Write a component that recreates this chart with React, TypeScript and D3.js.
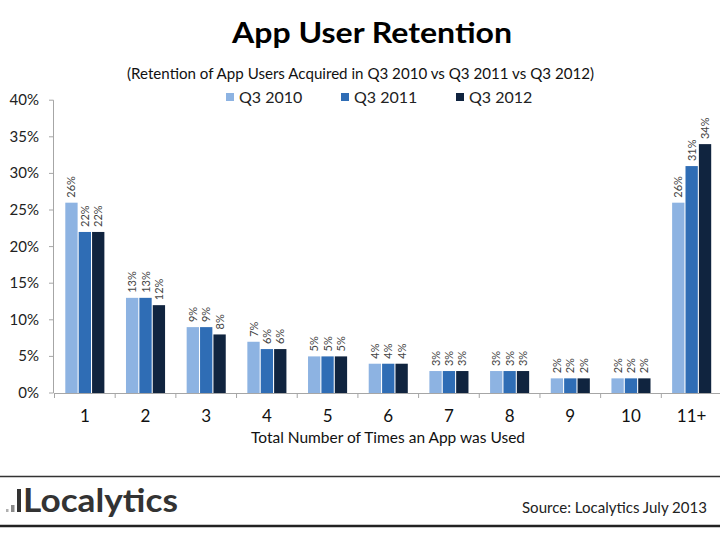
import React from "react";
import * as d3 from "d3";

const categories = ["1", "2", "3", "4", "5", "6", "7", "8", "9", "10", "11+"];
const seriesNames = ["Q3 2010", "Q3 2011", "Q3 2012"];
const q3_2010 = [26, 13, 9, 7, 5, 4, 3, 3, 2, 2, 26];
const q3_2011 = [22, 13, 9, 6, 5, 4, 3, 3, 2, 2, 31];
const q3_2012 = [22, 12, 8, 6, 5, 4, 3, 3, 2, 2, 34];
const yTicks = [0, 5, 10, 15, 20, 25, 30, 35, 40];
const colors = ["#8db3e2", "#2f6db5", "#10243f"];

const W = 720;
const H = 540;
const FONT = "Lato, 'Open Sans', sans-serif";

export default function App() {
  const series = [q3_2010, q3_2011, q3_2012];
  const x0 = d3.scaleBand<string>().domain(categories).range([54.5, 722]).paddingInner(0.356).paddingOuter(0.178);
  const x1 = d3.scaleBand<string>().domain(seriesNames).range([0, x0.bandwidth()]).paddingInner(0.08);
  const y = d3.scaleLinear().domain([0, 40]).range([393, 100.2]);
  const step = x0.step();
  const legendX = [226, 341, 456];

  return (
    <svg width={W} height={H} style={{ position: "absolute", left: 0, top: 0, background: "#fff" }} fontFamily={FONT}>
      <rect x={0} y={0} width={W} height={H} fill="#fff" />
      <text x={372} y={43} textAnchor="middle" fontSize={29} fontWeight={700} fill="#000" textLength={280} lengthAdjust="spacingAndGlyphs">App User Retention</text>
      <text x={360.5} y={79} textAnchor="middle" fontSize={16} fill="#111" textLength={467} lengthAdjust="spacingAndGlyphs">
        (Retention of App Users Acquired in Q3 2010 vs Q3 2011 vs Q3 2012)
      </text>
      {seriesNames.map((s, i) => (
        <g key={s}>
          <rect x={legendX[i]} y={93} width={8} height={8} fill={colors[i]} />
          <text x={legendX[i] + 13} y={103} fontSize={16} fill="#222">{s}</text>
        </g>
      ))}
      {/* y axis */}
      <line x1={53.5} x2={53.5} y1={y(40)} y2={y(0)} stroke="#a6a6a6" />
      {yTicks.map((t) => (
        <g key={t}>
          <line x1={49} x2={53.5} y1={y(t)} y2={y(t)} stroke="#a6a6a6" />
          <text x={39} y={y(t) + 5} textAnchor="end" fontSize={15} fill="#222">{t + "%"}</text>
        </g>
      ))}
      {/* bars */}
      {categories.map((c, ci) => (
        <g key={c} transform={`translate(${x0(c)},0)`}>
          {seriesNames.map((s, si) => {
            const v = series[si][ci];
            const bx = x1(s)!;
            const bw = x1.bandwidth();
            return (
              <g key={s}>
                <rect x={bx} y={y(v)} width={bw} height={y(0) - y(v)} fill={colors[si]} />
                <text
                  transform={`translate(${bx + bw / 2 + 4},${y(v) - 5}) rotate(-90)`}
                  fontSize={11}
                  fill="#444"
                >
                  {v + "%"}
                </text>
              </g>
            );
          })}
        </g>
      ))}
      {/* x axis */}
      <line x1={54.5} x2={W} y1={y(0) + 0.5} y2={y(0) + 0.5} stroke="#a6a6a6" />
      {categories.map((c, i) => (
        <line key={"t" + c} x1={54.5 + i * step} x2={54.5 + i * step} y1={y(0)} y2={y(0) + 5} stroke="#a6a6a6" />
      ))}
      {categories.map((c) => (
        <text key={"l" + c} x={x0(c)! + x0.bandwidth() / 2} y={422} textAnchor="middle" fontSize={17} fill="#111">{c}</text>
      ))}
      <text x={388} y={443} textAnchor="middle" fontSize={16} fill="#111" textLength={274} lengthAdjust="spacingAndGlyphs">
        Total Number of Times an App was Used
      </text>
      {/* footer */}
      <line x1={0} x2={W} y1={476.5} y2={476.5} stroke="#333" strokeWidth={1.5} />
      <line x1={0} x2={W} y1={526} y2={526} stroke="#222" strokeWidth={2.5} />
      <rect x={6} y={509} width={2.5} height={3} fill="#b0b0b0" />
      <rect x={11} y={505} width={3.5} height={7} fill="#8a8a8a" />
      <rect x={17} y={489} width={4} height={23} fill="#333" />
      <text x={23} y={512} fontSize={33} fontWeight={700} fill="#333" textLength={155} lengthAdjust="spacingAndGlyphs">Localytics</text>
      <text x={707} y={513} textAnchor="end" fontSize={16} fill="#222" textLength={185} lengthAdjust="spacingAndGlyphs">Source: Localytics July 2013</text>
    </svg>
  );
}
